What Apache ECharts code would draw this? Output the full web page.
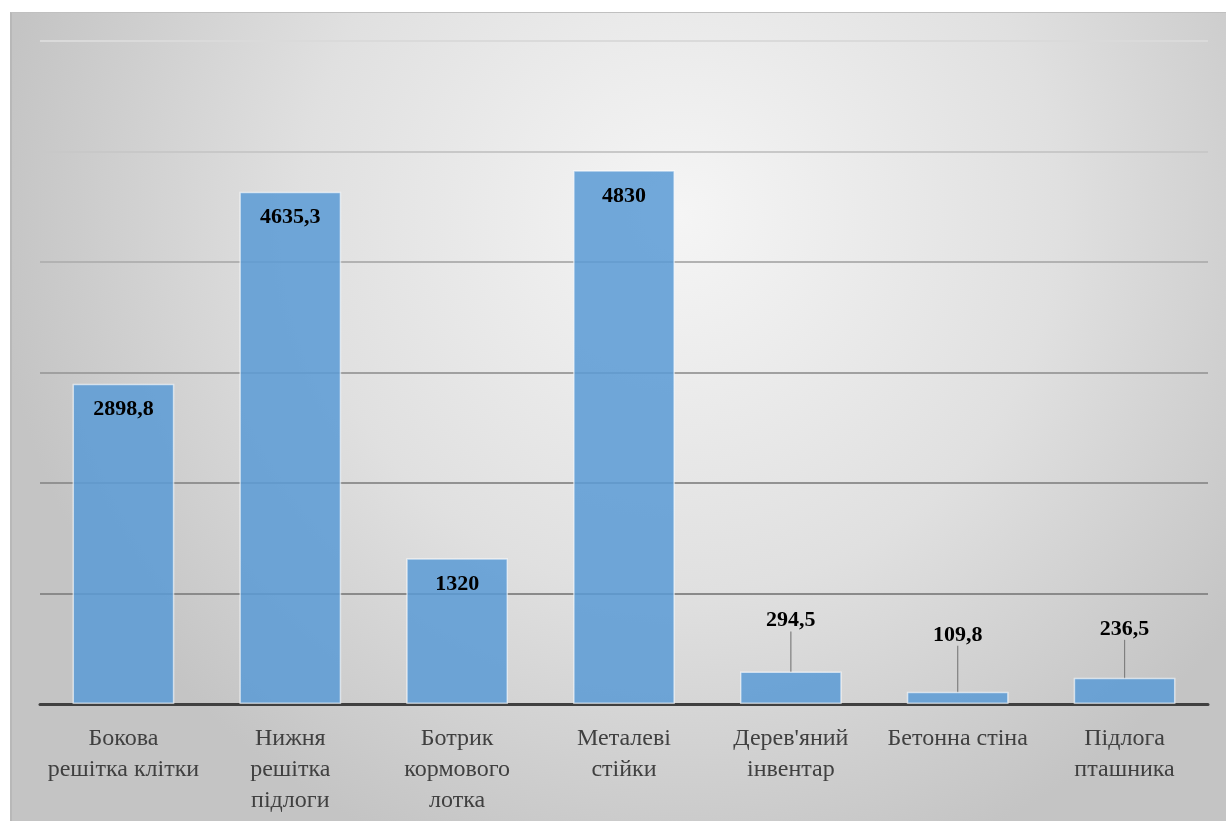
<!DOCTYPE html>
<html>
<head>
<meta charset="utf-8">
<script src="https://cdn.jsdelivr.net/npm/echarts@6/dist/echarts.min.js"></script>
<style>
  html, body { margin: 0; padding: 0; background: #ffffff; width: 1226px; height: 821px; overflow: hidden; }
  #chart { position: absolute; left: 10px; top: 12px; width: 1216px; height: 809px;
           border-top: 1px solid #c0c0c0; border-left: 2px solid #b8b8b8; box-sizing: border-box; }
</style>
</head>
<body>
<div id="chart"></div>
<script>
const categories = [
  'Бокова\nрешітка клітки',
  'Нижня\nрешітка\nпідлоги',
  'Ботрик\nкормового\nлотка',
  'Металеві\nстійки',
  "Дерев'яний\nінвентар",
  'Бетонна стіна',
  'Підлога\nпташника'
];
const values = [2898.8, 4635.3, 1320, 4830, 294.5, 109.8, 236.5];
const outsideLift = [0, 0, 0, 0, 36, 42, 34];

const chart = echarts.init(document.getElementById('chart'), null, { renderer: 'canvas' });

const data = values.map((v, i) => {
  const item = { value: v };
  if (outsideLift[i] > 0) {
    item.label = { position: 'top', distance: 4 };
    item.labelLine = { show: true, lineStyle: { color: '#7f7f7f', width: 1.2 } };
  }
  return item;
});

chart.setOption({
  backgroundColor: {
    type: 'radial', x: 0.55, y: 0.25, r: 0.85,
    colorStops: [
      { offset: 0, color: '#f5f5f5' },
      { offset: 0.55, color: '#e0e0e0' },
      { offset: 1, color: '#c4c4c4' }
    ]
  },
  animation: false,
  grid: { left: 28, right: 18, top: 28, bottom: 117, containLabel: false },
  xAxis: {
    type: 'category',
    data: categories,
    axisLine: { show: true, lineStyle: { color: '#404040', width: 3 } },
    axisTick: { show: false },
    axisLabel: {
      interval: 0,
      margin: 19,
      color: '#404040',
      fontFamily: 'Liberation Serif',
      fontSize: 24,
      lineHeight: 31
    }
  },
  yAxis: {
    type: 'value',
    min: 0, max: 6000, interval: 1000,
    axisLabel: { show: false },
    axisLine: { show: false },
    axisTick: { show: false },
    splitLine: {
      show: true,
      lineStyle: { width: 2, color: ['#404040', '#8a8a8a', '#929292', '#a0a0a0', '#b2b2b2', '#c8c8c8', '#dadada'] }
    }
  },
  series: [{
    type: 'bar',
    data: data,
    barCategoryGap: '39%',
    itemStyle: {
      color: 'rgba(91,155,213,0.86)',
      borderColor: 'rgba(255,255,255,0.6)',
      borderWidth: 1.5
    },
    label: {
      show: true,
      position: 'insideTop',
      distance: 15,
      color: '#000000',
      fontFamily: 'Liberation Serif',
      fontWeight: 'bold',
      fontSize: 22,
      formatter: p => String(p.value).replace('.', ',')
    },
    labelLine: { show: false },
    labelLayout: function (params) {
      const lift = outsideLift[params.dataIndex];
      if (lift > 0) return { dy: -lift };
      return {};
    }
  }]
});
</script>
</body>
</html>
